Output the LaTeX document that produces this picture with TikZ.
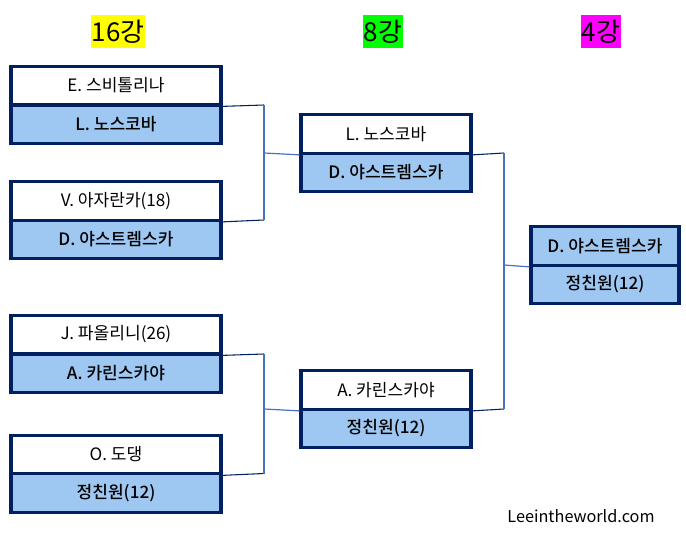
\documentclass[tikz,border=0pt]{standalone}
\usepackage{fontspec}
\setmainfont{Noto Sans CJK KR}[BoldFont={Noto Sans CJK KR Medium}]
\definecolor{navy}{RGB}{0,32,96}
\definecolor{rowblue}{RGB}{158,200,242}
\definecolor{linkblue}{RGB}{68,114,196}
\definecolor{hyellow}{RGB}{255,255,0}
\definecolor{hgreen}{RGB}{0,255,0}
\definecolor{hmagenta}{RGB}{255,0,255}
\begin{document}
\begin{tikzpicture}[x=0.75pt,y=-0.75pt,
  row/.style={draw=navy,line width=2.3pt,rectangle,inner sep=0pt,
    minimum height=29pt,font=\fontsize{12.8}{14}\selectfont},
  wide/.style={minimum width=157.5pt},
  mid/.style={minimum width=127.5pt},
  fin/.style={minimum width=111pt},
  loser/.style={row,fill=white},
  winner/.style={row,fill=rowblue,font=\fontsize{12.8}{14}\selectfont\bfseries},
  head/.style={inner xsep=0.6pt,inner ysep=0pt,minimum height=25pt,font=\fontsize{19.5}{21}\selectfont},
  feed/.style={draw=navy,line width=0.8pt},
  link/.style={draw=linkblue,line width=0.9pt}]
\useasboundingbox (0,0) rectangle (686,536);

% headers
\node[head,fill=hyellow] (h16) at (118,31.5) {16강};
\node[head,fill=hgreen] (h8) at (383,31.5) {8강};
\node[head,fill=hmagenta] (h4) at (601,31.5) {4강};

% round of 16
\node[loser,wide] (a1) at (116,85.5) {E. 스비톨리나};
\node[winner,wide] (a2) at (116,124.5) {L. 노스코바};
\node[loser,wide] (b1) at (116,201) {V. 아자란카(18)};
\node[winner,wide] (b2) at (116,239.5) {D. 야스트렘스카};
\node[loser,wide] (c1) at (116,334.5) {J. 파올리니(26)};
\node[winner,wide] (c2) at (116,373.5) {A. 카린스카야};
\node[loser,wide] (d1) at (116,454.5) {O. 도댕};
\node[winner,wide] (d2) at (116,493) {정친원(12)};

% quarter finals
\node[loser,mid] (e1) at (386,134) {L. 노스코바};
\node[winner,mid] (e2) at (386,172.5) {D. 야스트렘스카};
\node[loser,mid] (f1) at (386,390) {A. 카린스카야};
\node[winner,mid] (f2) at (386,428.5) {정친원(12)};

% semi final
\node[winner,fin] (g1) at (605,246) {D. 야스트렘스카};
\node[winner,fin] (g2) at (605,284.5) {정친원(12)};

% junction coordinates
\coordinate (ja1) at (264,105);
\coordinate (jb1) at (264,220);
\coordinate (jab) at (264,153);
\coordinate (jc1) at (264,354);
\coordinate (jd1) at (264,473.5);
\coordinate (jcd) at (264,409);
\coordinate (je1) at (504,153);
\coordinate (jf1) at (504,409);
\coordinate (jef) at (504,265);

% connectors
\draw[feed] (a1.south east) -- (ja1);
\draw[feed] (b1.south east) -- (jb1);
\draw[link] (ja1) -- (jb1);
\draw[link] (jab) -- (e1.south west);
\draw[feed] (c1.south east) -- (jc1);
\draw[feed] (d1.south east) -- (jd1);
\draw[link] (jc1) -- (jd1);
\draw[link] (jcd) -- (f1.south west);
\draw[feed] (e1.south east) -- (je1);
\draw[feed] (f1.south east) -- (jf1);
\draw[link] (je1) -- (jf1);
\draw[link] (jef) -- (g1.south west);

% watermark
\node[font=\fontsize{12.2}{14}\selectfont] (wm) at (581,516) {Leeintheworld.com};
\end{tikzpicture}
\end{document}
